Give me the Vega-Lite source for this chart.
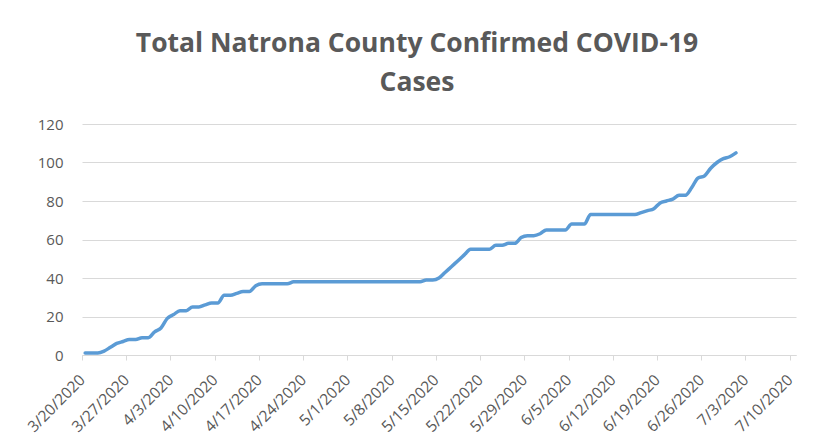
{
  "$schema": "https://vega.github.io/schema/vega-lite/v6.json",
  "autosize": "none",
  "width": 714,
  "height": 231,
  "padding": {"left": 82, "top": 124, "right": 29, "bottom": 93},
  "background": "white",
  "config": {
    "view": {"stroke": null},
    "font": "Open Sans"
  },
  "title": {
    "text": ["Total Natrona County Confirmed COVID-19", "Cases"],
    "font": "Open Sans",
    "fontSize": 26.5,
    "fontWeight": "bold",
    "color": "#595959",
    "lineHeight": 38.5,
    "anchor": "middle",
    "frame": "group",
    "dx": -22,
    "offset": 21
  },
  "data": {
    "values": [
      {"date": "3/20/2020", "cases": 1},
      {"date": "3/21/2020", "cases": 1},
      {"date": "3/22/2020", "cases": 1},
      {"date": "3/23/2020", "cases": 2},
      {"date": "3/24/2020", "cases": 4},
      {"date": "3/25/2020", "cases": 6},
      {"date": "3/26/2020", "cases": 7},
      {"date": "3/27/2020", "cases": 8},
      {"date": "3/28/2020", "cases": 8},
      {"date": "3/29/2020", "cases": 9},
      {"date": "3/30/2020", "cases": 9},
      {"date": "3/31/2020", "cases": 12},
      {"date": "4/1/2020", "cases": 14},
      {"date": "4/2/2020", "cases": 19},
      {"date": "4/3/2020", "cases": 21},
      {"date": "4/4/2020", "cases": 23},
      {"date": "4/5/2020", "cases": 23},
      {"date": "4/6/2020", "cases": 25},
      {"date": "4/7/2020", "cases": 25},
      {"date": "4/8/2020", "cases": 26},
      {"date": "4/9/2020", "cases": 27},
      {"date": "4/10/2020", "cases": 27},
      {"date": "4/11/2020", "cases": 31},
      {"date": "4/12/2020", "cases": 31},
      {"date": "4/13/2020", "cases": 32},
      {"date": "4/14/2020", "cases": 33},
      {"date": "4/15/2020", "cases": 33},
      {"date": "4/16/2020", "cases": 36},
      {"date": "4/17/2020", "cases": 37},
      {"date": "4/18/2020", "cases": 37},
      {"date": "4/19/2020", "cases": 37},
      {"date": "4/20/2020", "cases": 37},
      {"date": "4/21/2020", "cases": 37},
      {"date": "4/22/2020", "cases": 38},
      {"date": "4/23/2020", "cases": 38},
      {"date": "4/24/2020", "cases": 38},
      {"date": "4/25/2020", "cases": 38},
      {"date": "4/26/2020", "cases": 38},
      {"date": "4/27/2020", "cases": 38},
      {"date": "4/28/2020", "cases": 38},
      {"date": "4/29/2020", "cases": 38},
      {"date": "4/30/2020", "cases": 38},
      {"date": "5/1/2020", "cases": 38},
      {"date": "5/2/2020", "cases": 38},
      {"date": "5/3/2020", "cases": 38},
      {"date": "5/4/2020", "cases": 38},
      {"date": "5/5/2020", "cases": 38},
      {"date": "5/6/2020", "cases": 38},
      {"date": "5/7/2020", "cases": 38},
      {"date": "5/8/2020", "cases": 38},
      {"date": "5/9/2020", "cases": 38},
      {"date": "5/10/2020", "cases": 38},
      {"date": "5/11/2020", "cases": 38},
      {"date": "5/12/2020", "cases": 38},
      {"date": "5/13/2020", "cases": 39},
      {"date": "5/14/2020", "cases": 39},
      {"date": "5/15/2020", "cases": 40},
      {"date": "5/16/2020", "cases": 43},
      {"date": "5/17/2020", "cases": 46},
      {"date": "5/18/2020", "cases": 49},
      {"date": "5/19/2020", "cases": 52},
      {"date": "5/20/2020", "cases": 55},
      {"date": "5/21/2020", "cases": 55},
      {"date": "5/22/2020", "cases": 55},
      {"date": "5/23/2020", "cases": 55},
      {"date": "5/24/2020", "cases": 57},
      {"date": "5/25/2020", "cases": 57},
      {"date": "5/26/2020", "cases": 58},
      {"date": "5/27/2020", "cases": 58},
      {"date": "5/28/2020", "cases": 61},
      {"date": "5/29/2020", "cases": 62},
      {"date": "5/30/2020", "cases": 62},
      {"date": "5/31/2020", "cases": 63},
      {"date": "6/1/2020", "cases": 65},
      {"date": "6/2/2020", "cases": 65},
      {"date": "6/3/2020", "cases": 65},
      {"date": "6/4/2020", "cases": 65},
      {"date": "6/5/2020", "cases": 68},
      {"date": "6/6/2020", "cases": 68},
      {"date": "6/7/2020", "cases": 68},
      {"date": "6/8/2020", "cases": 73},
      {"date": "6/9/2020", "cases": 73},
      {"date": "6/10/2020", "cases": 73},
      {"date": "6/11/2020", "cases": 73},
      {"date": "6/12/2020", "cases": 73},
      {"date": "6/13/2020", "cases": 73},
      {"date": "6/14/2020", "cases": 73},
      {"date": "6/15/2020", "cases": 73},
      {"date": "6/16/2020", "cases": 74},
      {"date": "6/17/2020", "cases": 75},
      {"date": "6/18/2020", "cases": 76},
      {"date": "6/19/2020", "cases": 79},
      {"date": "6/20/2020", "cases": 80},
      {"date": "6/21/2020", "cases": 81},
      {"date": "6/22/2020", "cases": 83},
      {"date": "6/23/2020", "cases": 83},
      {"date": "6/24/2020", "cases": 87},
      {"date": "6/25/2020", "cases": 92},
      {"date": "6/26/2020", "cases": 93},
      {"date": "6/27/2020", "cases": 97},
      {"date": "6/28/2020", "cases": 100},
      {"date": "6/29/2020", "cases": 102},
      {"date": "6/30/2020", "cases": 103},
      {"date": "7/1/2020", "cases": 105}
    ]
  },
  "mark": {"type": "line", "color": "#5B9BD5", "strokeWidth": 3.5, "interpolate": "monotone", "strokeCap": "round", "strokeJoin": "round"},
  "encoding": {
    "x": {
      "field": "date",
      "type": "temporal",
      "timeUnit": "yearmonthdate",
      "bandPosition": 0.5,
      "scale": {"domain": [{"year": 2020, "month": 3, "date": 20}, {"year": 2020, "month": 7, "date": 11}]},
      "axis": {
        "title": null,
        "values": [
          {"year": 2020, "month": 3, "date": 20},
          {"year": 2020, "month": 3, "date": 27},
          {"year": 2020, "month": 4, "date": 3},
          {"year": 2020, "month": 4, "date": 10},
          {"year": 2020, "month": 4, "date": 17},
          {"year": 2020, "month": 4, "date": 24},
          {"year": 2020, "month": 5, "date": 1},
          {"year": 2020, "month": 5, "date": 8},
          {"year": 2020, "month": 5, "date": 15},
          {"year": 2020, "month": 5, "date": 22},
          {"year": 2020, "month": 5, "date": 29},
          {"year": 2020, "month": 6, "date": 5},
          {"year": 2020, "month": 6, "date": 12},
          {"year": 2020, "month": 6, "date": 19},
          {"year": 2020, "month": 6, "date": 26},
          {"year": 2020, "month": 7, "date": 3},
          {"year": 2020, "month": 7, "date": 10}
        ],
        "format": "%-m/%-d/%Y",
        "labelAngle": -45,
        "labelAlign": "right",
        "labelBaseline": "middle",
        "labelFontSize": 15.5,
        "labelColor": "#595959",
        "labelPadding": 17,
        "labelOverlap": false,
        "labelFlush": false,
        "labelBound": false,
        "grid": false,
        "domainColor": "#d9d9d9",
        "domainWidth": 1,
        "tickColor": "#d9d9d9",
        "tickSize": 5
      }
    },
    "y": {
      "field": "cases",
      "type": "quantitative",
      "scale": {"domain": [0, 120]},
      "axis": {
        "title": null,
        "values": [0, 20, 40, 60, 80, 100, 120],
        "domain": false,
        "ticks": false,
        "gridColor": "#d9d9d9",
        "gridWidth": 1,
        "labelPadding": 19,
        "labelFontSize": 15,
        "labelColor": "#595959"
      }
    }
  }
}
